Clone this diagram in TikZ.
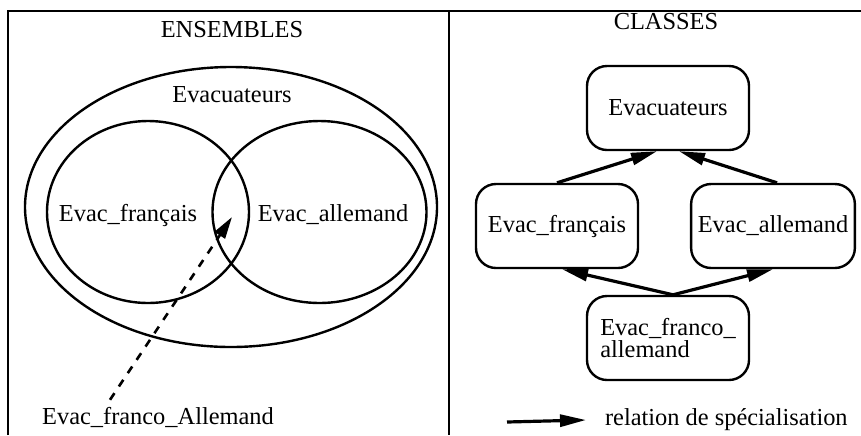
\documentclass[tikz,border=0pt]{standalone}
\usepackage{fontspec}
\setmainfont{Liberation Serif}
\usetikzlibrary{arrows.meta}

\begin{document}
\begin{tikzpicture}[x=0.5pt, y=-0.5pt,
            every node/.style={font=\fontsize{12.2}{11}\selectfont},
            cl/.style={draw, line width=1.2pt, rounded corners=10pt, minimum width=81pt,
              minimum height=42pt, align=left},
            ens/.style={draw, line width=1.2pt},
            sp/.style={-{Triangle[length=13pt, width=6pt]}, line width=1.6pt},
            dsp/.style={-{Triangle[length=11pt, width=6pt]}, line width=1.3pt,
              dash pattern=on 4pt off 4pt}]
          \useasboundingbox (0,0) rectangle (861,435);
          \draw[line width=1.2pt] (8,435) -- (8,11) -- (861,11);
          \draw[line width=1.2pt] (449,11) -- (449,435);
          % ensembles
          \node (ens) at (232,30) {ENSEMBLES};
          \draw[ens] (231,207) ellipse [x radius=206, y radius=140];
          \draw[ens] (148,212) ellipse [x radius=101, y radius=91];
          \draw[ens] (319.5,212) ellipse [x radius=107, y radius=91];
          \node (evs) at (232,95) {Evacuateurs};
          \node (efr) at (128,215) {Evac\_français};
          \node (eal) at (333,215) {Evac\_allemand};
          \node (efa) at (158,417) {Evac\_franco\_Allemand};
          \coordinate (inter) at (232,217);
          \draw[dsp] ([xshift=-24pt]efa.north) -- (inter);
          % classes
          \node (cls) at (666,22) {CLASSES};
          \node[cl] (ev) at (668,108) {Evacuateurs};
          \node[cl] (fr) at (557,226) {Evac\_français};
          \node[cl] (al) at (773,226) {Evac\_allemand};
          \node[cl] (fa) at (668,338) {Evac\_franco\_\\allemand};
          \draw[sp] (fr.north) -- ([xshift=-5.5pt]ev.south);
          \draw[sp] ([xshift=2pt]al.north) -- ([xshift=5.5pt]ev.south);
          \draw[sp] ([xshift=2.5pt]fa.north) -- ([xshift=2.5pt]fr.south);
          \draw[sp] ([xshift=2.5pt]fa.north) -- (al.south);
          % legende
          \coordinate (lgA) at (507,422);
          \node[anchor=west] (lg) at (598,420) {relation de spécialisation};
          \draw[sp] (lgA) -- ([xshift=-6pt]lg.west);
        \end{tikzpicture}
\end{document}
